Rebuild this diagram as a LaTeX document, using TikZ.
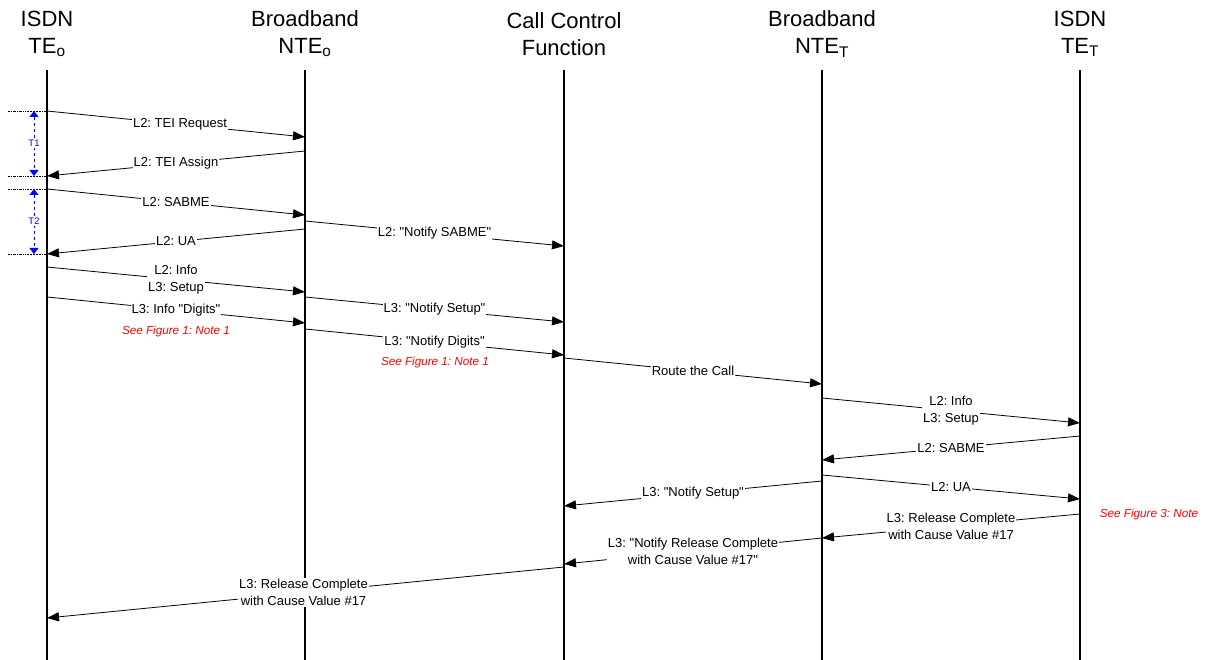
\documentclass[tikz,border=0pt]{standalone}
\usepackage{fontspec}
\setmainfont{Liberation Sans}
\newfontfamily\plainlib{Liberation Sans}
\usetikzlibrary{arrows.meta}
\newcommand{\dq}{{\plainlib\symbol{34}}}
\frenchspacing
\begin{document}
\begin{tikzpicture}[x=1pt,y=-1pt,
  hdr/.style={font=\fontsize{22}{27}\selectfont,align=center,inner sep=0pt},
  life/.style={line width=2.6pt},
  msg/.style={line width=0.8pt,-{Triangle[length=12pt,width=9pt]}},
  lbl/.style={fill=white,font=\fontsize{13}{17}\selectfont,align=center,inner sep=1pt},
  note/.style={text=red,font=\fontsize{11.7}{13}\selectfont\itshape,inner sep=0pt},
  tdot/.style={line width=0.6pt,dash pattern=on 2pt off 1pt on 0.6pt off 1pt on 0.6pt off 1pt},
  tarr/.style={blue,line width=0.8pt,dashed,{Triangle[length=6pt,width=9pt]}-{Triangle[length=6pt,width=9pt]}},
  tlbl/.style={blue,fill=white,font=\fontsize{9.5}{10}\selectfont,inner sep=1pt}]
\useasboundingbox (0,0) rectangle (1205,660);
% headers
\node[hdr] (h1) at (47,34) {ISDN\\TE\textsubscript{o}};
\node[hdr] (h2) at (305,34) {Broadband\\NTE\textsubscript{o}};
\node[hdr] (h3) at (564,34) {Call Control\\Function};
\node[hdr] (h4) at (822,34) {Broadband\\NTE\textsubscript{T}};
\node[hdr] (h5) at (1080,34) {ISDN\\TE\textsubscript{T}};
% lifelines
\foreach \n/\x in {A/47,B/305,C/564,D/822,E/1080}{
  \coordinate (\n top) at (\x,70);
  \coordinate (\n bot) at (\x,660);
  \draw[life] (\n top) -- (\n bot);
}
% message end points
\coordinate (m1s) at (47,111);  \coordinate (m1e) at (305,137);
\coordinate (m2s) at (305,151); \coordinate (m2e) at (47,176);
\coordinate (m3s) at (47,189);  \coordinate (m3e) at (305,215);
\coordinate (m4s) at (305,221); \coordinate (m4e) at (564,246);
\coordinate (m5s) at (305,229); \coordinate (m5e) at (47,254);
\coordinate (m6s) at (47,267);  \coordinate (m6e) at (305,292);
\coordinate (m7s) at (305,297); \coordinate (m7e) at (564,322);
\coordinate (m8s) at (47,297);  \coordinate (m8e) at (305,323);
\coordinate (m9s) at (305,329); \coordinate (m9e) at (564,355);
\coordinate (m10s) at (564,358); \coordinate (m10e) at (822,384);
\coordinate (m11s) at (822,398); \coordinate (m11e) at (1080,423);
\coordinate (m12s) at (1080,436); \coordinate (m12e) at (822,460);
\coordinate (m13s) at (822,481); \coordinate (m13e) at (564,506);
\coordinate (m14s) at (822,475); \coordinate (m14e) at (1080,499);
\coordinate (m15s) at (1080,514); \coordinate (m15e) at (822,538);
\coordinate (m16s) at (822,538); \coordinate (m16e) at (564,564);
\coordinate (m17s) at (564,567); \coordinate (m17e) at (47,618);
% messages
\draw[msg] (m1s) -- node[lbl,xshift=4pt] {L2: TEI Request} (m1e);
\draw[msg] (m2s) -- node[lbl] {L2: TEI Assign} (m2e);
\draw[msg] (m3s) -- node[lbl] {L2: SABME} (m3e);
\draw[msg] (m4s) -- node[lbl] {L2: \dq Notify SABME\dq} (m4e);
\draw[msg] (m5s) -- node[lbl] {L2: UA} (m5e);
\draw[msg] (m6s) -- node[lbl] {L2: Info\\L3: Setup} (m6e);
\draw[msg] (m7s) -- node[lbl] {L3: \dq Notify Setup\dq} (m7e);
\draw[msg] (m8s) -- node[lbl] (l8) {L3: Info \dq Digits\dq} (m8e);
\draw[msg] (m9s) -- node[lbl] (l9) {L3: \dq Notify Digits\dq} (m9e);
\draw[msg] (m10s) -- node[lbl] {Route the Call} (m10e);
\draw[msg] (m11s) -- node[lbl] {L2: Info\\L3: Setup} (m11e);
\draw[msg] (m12s) -- node[lbl] {L2: SABME} (m12e);
\draw[msg] (m13s) -- node[lbl] {L3: \dq Notify Setup\dq} (m13e);
\draw[msg] (m14s) -- node[lbl] {L2: UA} (m14e);
\draw[msg] (m15s) -- node[lbl] {L3: Release Complete\\with Cause Value \#17} (m15e);
\draw[msg] (m16s) -- node[lbl] {L3: \dq Notify Release Complete\\with Cause Value \#17\dq} (m16e);
\draw[msg] (m17s) -- node[lbl,xshift=-2pt] {L3: Release Complete\\with Cause Value \#17} (m17e);
% notes
\node[note] (n1) at (176,331) {See Figure 1: Note 1};
\node[note] (n2) at (435,362) {See Figure 1: Note 1};
\node[note] (n3) at (1149,514) {See Figure 3: Note};
% timers
\foreach \y/\n in {111/a,176/b,189/c,254/d}{
  \coordinate (t\n l) at (8,\y);
  \coordinate (t\n r) at (47,\y);
  \draw[tdot] (t\n l) -- (t\n r);
}
\coordinate (T1a) at (34,111); \coordinate (T1b) at (34,176);
\coordinate (T2a) at (34,189); \coordinate (T2b) at (34,254);
\draw[tarr] (T1a) -- node[tlbl] {T1} (T1b);
\draw[tarr] (T2a) -- node[tlbl] {T2} (T2b);
\end{tikzpicture}
\end{document}
